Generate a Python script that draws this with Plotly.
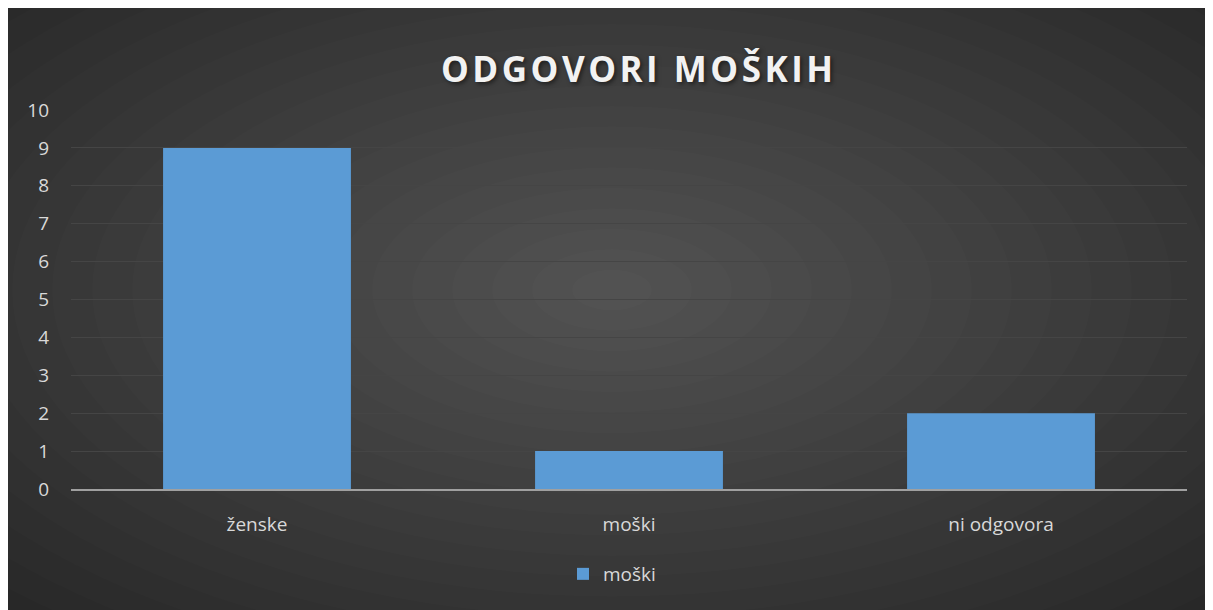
import plotly.graph_objects as go

# data
categories = ["ženske", "moški", "ni odgovora"]
values = [9, 1, 2]
series_name = "moški"
title_text = "ODGOVORI MOŠKIH"

# page body adds an 8px margin, so work in reference pixels shifted by it
OFF = 8
W, H = 1203, 602
ML, MR, MT, MB = 63, 24, 102, 121
PW, PH = W - ML - MR, H - MT - MB


def px_x(px):
    """Reference pixel x -> paper x."""
    return (px - OFF - ML) / PW


def px_y(py):
    """Reference pixel y (from top) -> paper y."""
    return (H - MB - (py - OFF)) / PH


fig = go.Figure()

fig.add_trace(
    go.Bar(
        x=categories,
        y=values,
        name=series_name,
        marker=dict(color="#5b9bd5", line=dict(width=0)),
        showlegend=True,
    )
)

# soft radial glow on the dark card
shapes = []
cx, cy = 612, 290
n_layers = 22
for k in range(n_layers):
    f = 1 - k / n_layers
    rx, ry = 880 * f, 450 * f
    shapes.append(
        dict(
            type="circle", xref="paper", yref="paper", layer="below",
            x0=px_x(cx - rx), x1=px_x(cx + rx),
            y0=px_y(cy + ry), y1=px_y(cy - ry),
            fillcolor="white", opacity=0.012, line=dict(width=0),
        )
    )

# hair spaces to mimic the wide letter spacing of the title
spaced_title = "\u200a".join(title_text)

fig.update_layout(
    width=W,
    height=H,
    margin=dict(l=ML, r=MR, t=MT, b=MB),
    paper_bgcolor="#262626",
    plot_bgcolor="rgba(0,0,0,0)",
    shapes=shapes,
    bargap=0.495,
    font=dict(family="Open Sans, sans-serif", color="#d9d9d9", size=19),
    title=dict(
        text="<b>" + spaced_title + "</b>",
        font=dict(
            family="Open Sans, sans-serif", size=35, color="#f2f2f2",
            shadow="2px 2px 4px rgba(0,0,0,0.5)",
        ),
        x=px_x(637), xref="paper", xanchor="center",
        y=1 - (70 - OFF) / H, yref="container", yanchor="middle",
    ),
    legend=dict(
        orientation="h",
        x=px_x(612), xanchor="center",
        y=px_y(574), yanchor="middle",
        font=dict(size=19, color="#d9d9d9"),
        bgcolor="rgba(0,0,0,0)",
    ),
    xaxis=dict(
        showgrid=False,
        showline=True,
        linecolor="#a0a0a0",
        linewidth=2,
        ticks="",
        ticklabelstandoff=17,
        tickfont=dict(size=19, color="#d9d9d9"),
        zeroline=False,
    ),
    yaxis=dict(
        range=[0, 10],
        dtick=1,
        showgrid=True,
        gridcolor="#454545",
        gridwidth=1,
        zeroline=False,
        showline=False,
        ticks="",
        ticklabelstandoff=21,
        tickfont=dict(size=19, color="#d9d9d9"),
    ),
)

fig.write_html("out.html")
